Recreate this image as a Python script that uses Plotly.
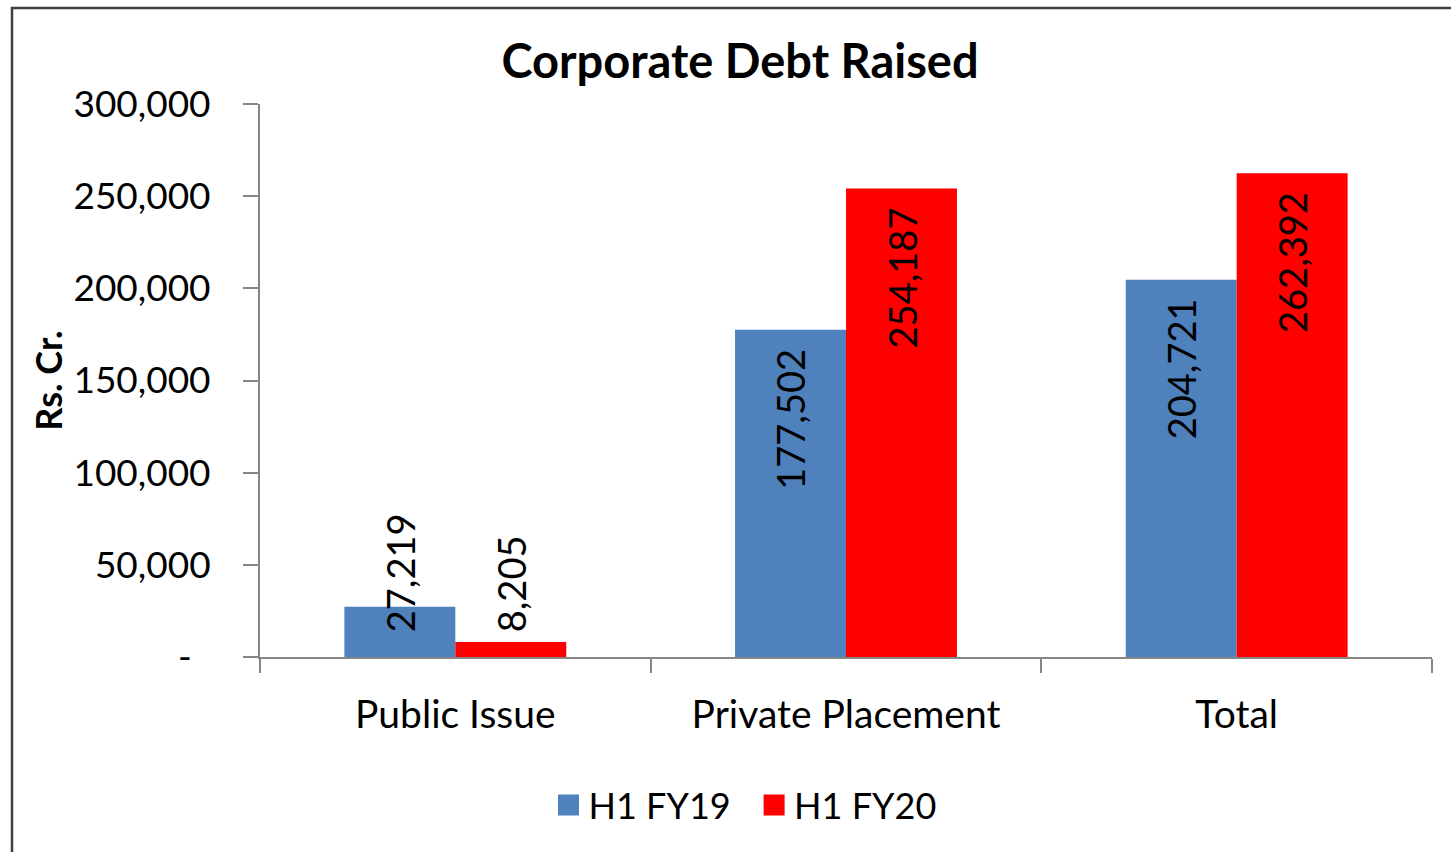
import plotly.graph_objects as go

categories = ["Public Issue", "Private Placement", "Total"]
series_names = ["H1 FY19", "H1 FY20"]
fy19 = [27219, 177502, 204721]
fy20 = [8205, 254187, 262392]
ytick_vals = [0, 50000, 100000, 150000, 200000, 250000, 300000]
ytick_text = ["-\u00a0\u00a0", "50,000", "100,000", "150,000", "200,000", "250,000", "300,000"]

colors = ["#4F81BD", "#FF0000"]
FONT = "Lato"
W, H = 1451, 852
ML, MR, MT, MB = 260, 19, 104, 195
pw = W - ML - MR
ph = H - MT - MB

fig = go.Figure()
for name, vals, c in zip(series_names, [fy19, fy20], colors):
    fig.add_trace(go.Bar(x=categories, y=vals, name=name, marker_color=c,
                         marker_line_width=0, showlegend=False))
# legend proxies
legend_labels = [series_names[0] + "\u00a0\u00a0", series_names[1]]
for name, c in zip(legend_labels, colors):
    fig.add_trace(go.Scatter(x=[None], y=[None], mode="markers", name=name,
                             marker=dict(symbol="square", size=16, color=c,
                                         line=dict(color=c, width=5))))

# data labels
for vals, sh in zip([fy19, fy20], [-55.5, 55.5]):
    for cat, v in zip(categories, vals):
        txt = f"{v:,}"
        bar_px = v / 300000 * ph
        if bar_px > 160:
            fig.add_annotation(x=cat, y=v, text=txt, textangle=-90, showarrow=False,
                               xshift=sh, yanchor="top", yshift=-17,
                               font=dict(family=FONT, size=38, color="black"))
        else:
            fig.add_annotation(x=cat, y=0, text=txt, textangle=-90, showarrow=False,
                               xshift=sh, yanchor="bottom", yshift=23,
                               font=dict(family=FONT, size=38, color="black"))

# outer border
fig.add_shape(type="rect", xref="paper", yref="paper",
              x0=(12 - ML) / pw, x1=(W + 20 - ML) / pw,
              y0=-(H + 20 - MT - ph) / ph, y1=(ph + MT - 8) / ph,
              line=dict(color="#3f3f3f", width=2.5), layer="below")

fig.update_layout(
    width=W, height=H,
    margin=dict(l=ML, r=MR, t=MT, b=MB),
    paper_bgcolor="white", plot_bgcolor="white",
    barmode="group", bargap=0.432, bargroupgap=0,
    title=dict(text="<b>Corporate Debt Raised</b>", x=740 / W, xanchor="center",
               y=1 - 62 / H, yanchor="middle",
               font=dict(family=FONT, size=47, color="black")),
    font=dict(family=FONT, color="black"),
    legend=dict(orientation="h", x=(745 - ML) / pw, xanchor="center",
                y=-(805 - MT - ph) / ph, yanchor="middle",
                font=dict(family=FONT, size=36, color="black"),
                itemwidth=30, tracegroupgap=0, bgcolor="rgba(0,0,0,0)"),
    showlegend=True,
)
fig.update_xaxes(showline=True, linecolor="#868686", linewidth=2,
                 ticks="outside", tickson="boundaries", ticklen=14, tickwidth=2,
                 tickcolor="#868686", showgrid=False, ticklabelstandoff=22,
                 tickfont=dict(family=FONT, size=39, color="black"))
fig.update_yaxes(range=[0, 300000], tickvals=ytick_vals, ticktext=ytick_text,
                 showline=True, linecolor="#868686", linewidth=2,
                 ticks="outside", ticklen=15, tickwidth=2, tickcolor="#868686",
                 showgrid=False, zeroline=False, ticklabelstandoff=25,
                 title=dict(text="<b>Rs. Cr.</b>", standoff=0,
                            font=dict(family=FONT, size=36, color="black")),
                 tickfont=dict(family=FONT, size=37, color="black"))

fig.write_html("out.html", config={"displayModeBar": False},
               post_script="document.body.style.margin='0';")
